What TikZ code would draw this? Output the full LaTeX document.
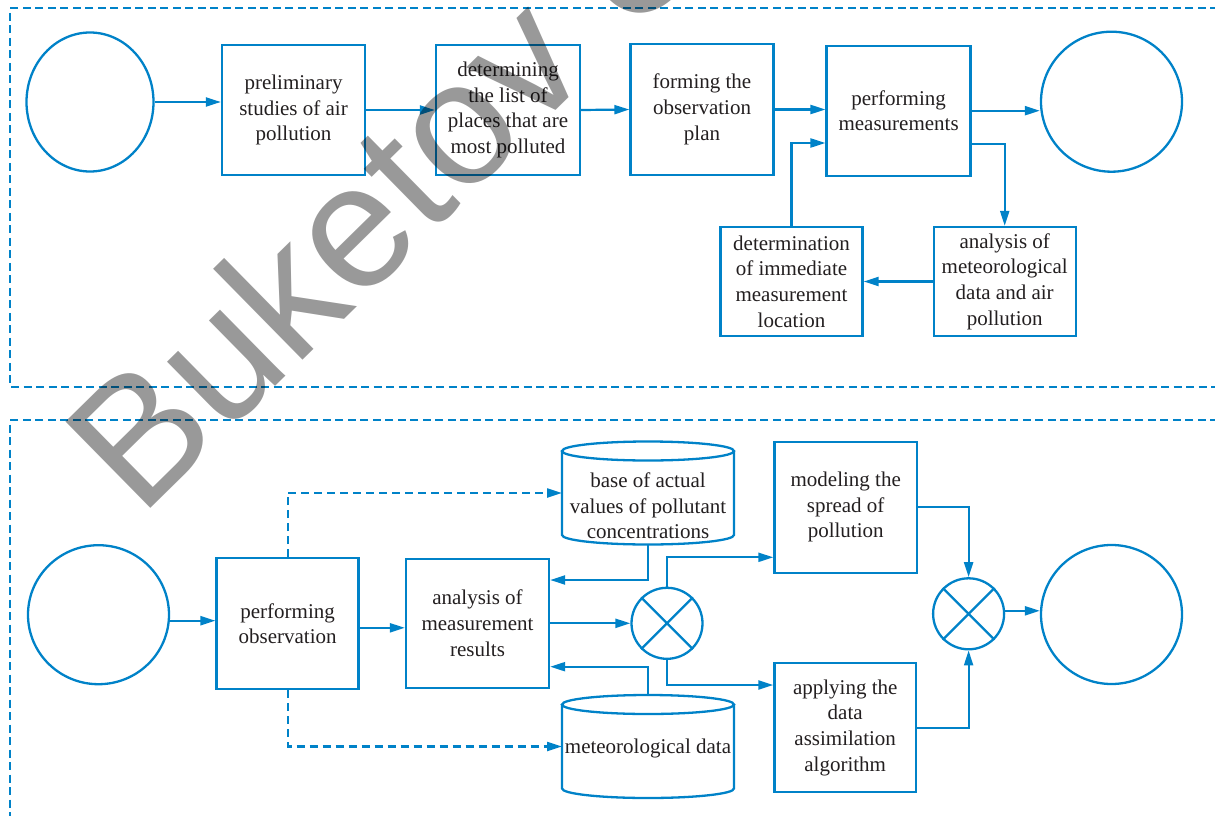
\documentclass[tikz,border=0pt]{standalone}
\usepackage{fontspec}
\setmainfont{Liberation Serif}
\newfontfamily\wmfont{Liberation Sans}
\usetikzlibrary{arrows.meta,shapes.geometric,calc}
\definecolor{diagblue}{RGB}{0,130,200}
\definecolor{txtcol}{RGB}{35,31,32}
\tikzset{
  line/.style={draw=diagblue, line width=2.3pt},
  procbox/.style={line, rectangle, align=center, text=txtcol, font=\fontsize{21}{25.7}\selectfont, inner sep=2pt},
  term/.style={line, ellipse, inner sep=0pt},
  arr/.style={draw=diagblue, line width=2.2pt, -{Triangle[length=15pt,width=9pt]}},
  darr/.style={arr, dash pattern=on 8pt off 5pt},
  border/.style={draw=diagblue, line width=2pt, dash pattern=on 8pt off 4.5pt},
  mixer/.style={line, circle, minimum size=71pt, inner sep=0pt},
  cylbody/.style={rectangle, inner sep=0pt, outer sep=0pt},
  cyltext/.style={align=center, text=txtcol, font=\fontsize{21}{25.7}\selectfont, inner sep=0pt},
}
\begin{document}
\begin{tikzpicture}[x=1pt, y=-1pt]
\useasboundingbox (0,0) rectangle (1215,816);
% dashed frames
\draw[border] (1218,8.3) -- (10,8.3) -- (10,386.7) -- (1218,386.7);
\draw[border] (1218,420) -- (10,420) -- (10,820);

% ---------- top row ----------
\node[term, minimum width=127pt, minimum height=139pt] (s1) at (90,102) {};
\node[procbox, minimum width=143pt, minimum height=130pt] (p1) at (293.5,110) {preliminary\\studies of air\\pollution};
\node[procbox, minimum width=144pt, minimum height=130pt] (p2) at (508,110) {determining\\the list of\\places that are\\most polluted};
\node[procbox, minimum width=143pt, minimum height=131pt] (p3) at (702,109.5) {forming the\\observation\\plan};
\node[procbox, minimum width=144pt, minimum height=130pt] (p4) at (898.6,110.7) {performing\\measurements};
\node[term, minimum width=141pt, minimum height=140pt] (e1) at (1111.5,101.7) {};
\node[procbox, minimum width=142pt, minimum height=109pt] (p5) at (791.5,281.5) {determination\\of immediate\\measurement\\location};
\node[procbox, minimum width=142pt, minimum height=109pt] (p6) at (1004.7,281.5) {analysis of\\meteorological\\data and air\\pollution};

\draw[arr] (s1.east) -- (s1.east -| p1.west);
\draw[arr] (p1.east) -- (p2.west);
\draw[arr] (p2.east) -- (p3.west);
\draw[arr] (p3.east) -- (p3.east -| p4.west);
\draw[arr] (p4.east) -- (p4.east -| e1.west);
\coordinate (p4o) at ($(p4.east)+(0,33.3)$);
\draw[arr] (p4o) -| (p6.north);
\draw[arr] (p6.west) -- (p5.east);
\coordinate (p4i) at ($(p4.west)+(0,32.3)$);
\draw[arr] (p5.north) |- (p4i);

% ---------- bottom row ----------
\node[term, minimum width=141pt, minimum height=139pt] (s2) at (98.5,614.7) {};
\node[procbox, minimum width=142pt, minimum height=131pt] (q1) at (287.6,623.8) {performing\\observation};
\node[procbox, minimum width=143pt, minimum height=129pt] (q2) at (477.5,623.3) {analysis of\\measurement\\results};
\node[cylbody, minimum width=172pt, minimum height=103pt] (db1) at (648,493) {};
\node[cyltext] (db1t) at (648,506) {base of actual\\values of pollutant\\concentrations};
\node[cylbody, minimum width=172pt, minimum height=103pt] (db2) at (648,746.5) {};
\node[cyltext] (db2t) at (648,748) {meteorological data};
\node[mixer] (m1) at (667,623.3) {};
\node[procbox, minimum width=142.5pt, minimum height=131pt] (q3) at (845.7,507.2) {modeling the\\spread of\\pollution};
\node[procbox, minimum width=141.5pt, minimum height=129pt] (q4) at (845.2,727.8) {applying the\\data\\assimilation\\algorithm};
\node[mixer] (m2) at (968.6,613.8) {};
\node[term, minimum width=141pt, minimum height=139pt] (e2) at (1111.5,614.5) {};

% cylinders
\draw[line] ($(db1.north)+(0,9.5)$) ellipse [x radius=86pt, y radius=9.5pt];
\draw[line] ($(db1.north west)+(0,9.5)$) -- ($(db1.south west)+(0,-9.5)$) arc[start angle=180, end angle=360, x radius=86pt, y radius=9.5pt] -- ($(db1.north east)+(0,9.5)$);
\draw[line] ($(db2.north)+(0,9.5)$) ellipse [x radius=86pt, y radius=9.5pt];
\draw[line] ($(db2.north west)+(0,9.5)$) -- ($(db2.south west)+(0,-9.5)$) arc[start angle=180, end angle=360, x radius=86pt, y radius=9.5pt] -- ($(db2.north east)+(0,9.5)$);

% mixers
\draw[line] (m1.45) -- (m1.225) (m1.135) -- (m1.315);
\draw[line] (m2.45) -- (m2.225) (m2.135) -- (m2.315);

\coordinate (s2o) at ($(s2.east)+(0,6)$);
\draw[arr] (s2o) -- (s2o -| q1.west);
\coordinate (q1o) at ($(q1.east)+(0,4)$);
\draw[arr] (q1o) -- (q1o -| q2.west);
\draw[darr] (q1.north) |- (db1.west);
\draw[darr] (q1.south) |- (db2.west);
\coordinate (q2a) at ($(q2.east)+(0,-43.3)$);
\draw[arr] (db1.south) |- (q2a);
\coordinate (q2b) at ($(q2.east)+(0,43.4)$);
\draw[arr] (db2.north) |- (q2b);
\draw[arr] (q2.east) -- (m1.west);
\coordinate (q3i) at ($(q3.west)+(0,50.1)$);
\draw[arr] (m1.north) |- (q3i);
\coordinate (q4i) at ($(q4.west)+(0,-42.8)$);
\draw[arr] (m1.south) |- (q4i);
\draw[arr] (q3.east) -| (m2.north);
\draw[arr] (q4.east) -| (m2.south);
\coordinate (m2o) at ($(m2.east)+(0,-3)$);
\draw[arr] (m2o) -- (m2o -| e2.west);

% watermark
\begin{scope}
\clip (0,0) rectangle (1215,816);
\node[rotate=44.5, anchor=base west, text=black, opacity=0.4, inner sep=0pt, font=\wmfont\fontsize{176}{176}\selectfont] (wm) at (140.8,519) {Buketov U};
\end{scope}
\end{tikzpicture}
\end{document}
